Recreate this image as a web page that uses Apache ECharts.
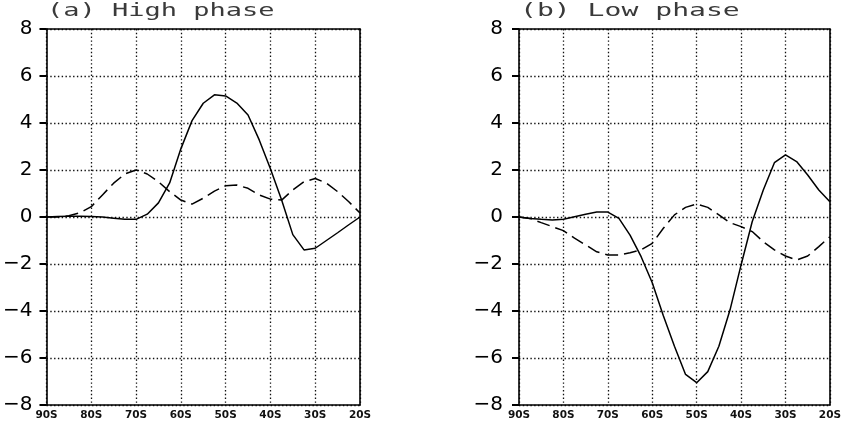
<!DOCTYPE html>
<html>
<head>
<meta charset="utf-8">
<script src="https://cdn.jsdelivr.net/npm/echarts@6/dist/echarts.min.js"></script>
<style>
  html, body { margin: 0; padding: 0; background: #fff; }
  #main { width: 844px; height: 441px; }
</style>
</head>
<body>
<div id="main"></div>
<script>
// latitude (negative = south), every 2.5 deg
var lats = [-90, -87.5, -85, -82.5, -80, -77.5, -75, -72.5, -70, -67.5, -65, -62.5, -60, -57.5, -55,
  -52.5, -50, -47.5, -45, -42.5, -40, -37.5, -35, -32.5, -30, -27.5, -25, -22.5, -20];

// (a) high phase
var highSolid = [0, 0.02, 0.03, 0.03, 0.02, 0, -0.05, -0.1, -0.1, 0.12, 0.6, 1.45, 2.9, 4.1, 4.84,
  5.2, 5.15, 4.85, 4.34, 3.28, 2.05, 0.72, -0.75, -1.4, -1.33, -1.0, -0.67, -0.33, 0];
var highDash = [0, 0, 0.05, 0.18, 0.44, 0.94, 1.44, 1.83, 2.0, 1.83, 1.5, 1.08, 0.72, 0.55, 0.8,
  1.1, 1.33, 1.36, 1.22, 0.94, 0.76, 0.72, 1.15, 1.5, 1.64, 1.44, 1.08, 0.65, 0.17];

// (b) low phase
var lowSolid = [0, -0.06, -0.1, -0.13, -0.1, 0.01, 0.12, 0.21, 0.21, -0.06, -0.77, -1.69, -2.8, -4.2, -5.5,
  -6.7, -7.05, -6.58, -5.5, -3.96, -2.04, -0.2, 1.15, 2.31, 2.64, 2.36, 1.79, 1.15, 0.65];
var lowDash = [0, -0.06, -0.24, -0.41, -0.58, -0.9, -1.19, -1.48, -1.62, -1.62, -1.52, -1.4, -1.12, -0.48, 0.09,
  0.41, 0.55, 0.41, 0.09, -0.24, -0.41, -0.62, -1.05, -1.4, -1.66, -1.83, -1.66, -1.26, -0.84];

var yMin = -8, yMax = 8, yStep = 2;
var xMin = -90, xMax = -20, xStep = 10;

function pairs(vals) {
  return lats.map(function (lat, i) { return [lat, vals[i]]; });
}

var chart = echarts.init(document.getElementById('main'), null, { renderer: 'canvas' });

var grids = [
  { left: 45, top: 29, width: 315, height: 376 },
  { left: 519, top: 29, width: 314, height: 376 }
];

var dots = { color: '#111', width: 1.3, type: [1.4, 2.4] };
var frame = { color: '#000', width: 1.6 };

function xAxisFor(idx) {
  return {
    gridIndex: idx, type: 'value', min: xMin, max: xMax, interval: xStep,
    axisLine: { show: true, onZero: false, lineStyle: frame },
    axisTick: { show: false },
    axisLabel: {
      margin: 5, color: '#111', fontFamily: 'DejaVu Sans', fontWeight: 'bold', fontSize: 10.5,
      formatter: function (v) { return Math.abs(v) + 'S'; }
    },
    splitLine: { show: true, lineStyle: dots }
  };
}
// plain frame edges (top and right)
function xTopFor(idx) {
  return {
    gridIndex: idx, type: 'value', position: 'top', min: xMin, max: xMax, interval: xStep,
    axisLine: { show: true, onZero: false, lineStyle: frame },
    axisTick: { show: false }, axisLabel: { show: false }, splitLine: { show: false }
  };
}
function yAxisFor(idx, margin) {
  return {
    gridIndex: idx, type: 'value', min: yMin, max: yMax, interval: yStep,
    axisLine: { show: true, onZero: false, lineStyle: frame },
    axisTick: { show: true, inside: false, length: 7, lineStyle: { color: '#000', width: 2 } },
    axisLabel: {
      margin: margin, color: '#000', fontFamily: 'DejaVu Sans', fontSize: 20,
      formatter: function (v) { return v < 0 ? '\u2212' + Math.abs(v) : String(v); }
    },
    splitLine: { show: true, lineStyle: dots }
  };
}
function yRightFor(idx) {
  return {
    gridIndex: idx, type: 'value', position: 'right', min: yMin, max: yMax, interval: yStep,
    axisLine: { show: true, onZero: false, lineStyle: frame },
    axisTick: { show: false }, axisLabel: { show: false }, splitLine: { show: false }
  };
}

function line(idx, vals, dashed) {
  return {
    type: 'line', xAxisIndex: idx, yAxisIndex: idx, data: pairs(vals),
    showSymbol: false, symbol: 'none', smooth: false, silent: true, z: 5,
    lineStyle: { color: '#000', width: 1.5, type: dashed ? [13, 6] : 'solid' }
  };
}

var option = {
  animation: false,
  backgroundColor: '#fff',
  grid: grids,
  xAxis: [xAxisFor(0), xAxisFor(1), xTopFor(0), xTopFor(1)],
  yAxis: [yAxisFor(0, 14), yAxisFor(1, 16), yRightFor(0), yRightFor(1)],
  graphic: [
    { type: 'text', x: 47, y: 11, scaleX: 1.5, silent: true,
      style: { text: '(a) High phase', fontFamily: 'DejaVu Sans Mono', fontSize: 18, fill: '#3a3a3a',
        verticalAlign: 'middle', align: 'left' } },
    { type: 'text', x: 520, y: 11, scaleX: 1.56, silent: true,
      style: { text: '(b) Low phase', fontFamily: 'DejaVu Sans Mono', fontSize: 18, fill: '#3a3a3a',
        verticalAlign: 'middle', align: 'left' } }
  ],
  series: [
    line(0, highSolid, false),
    line(0, highDash, true),
    line(1, lowSolid, false),
    line(1, lowDash, true)
  ]
};

chart.setOption(option);
</script>
</body>
</html>
